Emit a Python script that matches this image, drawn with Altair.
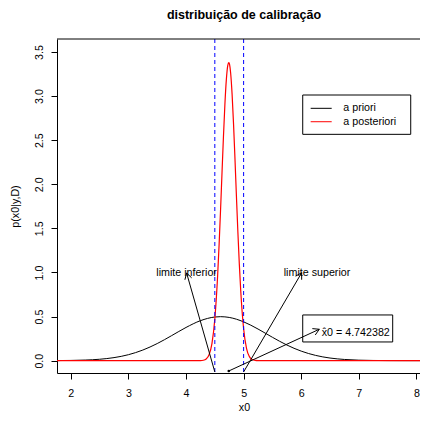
import math
import altair as alt
import pandas as pd

# ---------------- data ----------------
prior_x = [1.75, 2.0, 2.25, 2.5, 2.75, 3.0, 3.25, 3.5, 3.75, 4.0, 4.25, 4.5, 4.6,
           4.75, 5.0, 5.25, 5.5, 5.75, 6.0, 6.25, 6.5, 6.75, 7.0, 7.25, 7.5, 7.75,
           8.0, 8.25]
prior_y = [0.0009, 0.0025, 0.0067, 0.0159, 0.0344, 0.0675, 0.1201, 0.1938, 0.2836,
           0.3764, 0.4532, 0.4948, 0.4987, 0.4900, 0.4401, 0.3585, 0.2649, 0.1775,
           0.1079, 0.0595, 0.0297, 0.0135, 0.0055, 0.0021, 0.0007, 0.0002, 0.0001,
           0.0000]

post_x = [1.75, 4.2, 4.25, 4.3, 4.35, 4.4, 4.45, 4.5, 4.55, 4.575, 4.6, 4.625, 4.65,
          4.675, 4.7, 4.725, 4.742, 4.75, 4.775, 4.8, 4.825, 4.85, 4.875, 4.9, 4.925,
          4.95, 5.0, 5.05, 5.1, 5.15, 5.2, 5.25, 5.3, 8.25]
post_y = [0.0, 0.0002, 0.0010, 0.0048, 0.0194, 0.0665, 0.193, 0.473, 0.980, 1.325,
          1.717, 2.134, 2.544, 2.907, 3.186, 3.347, 3.380, 3.373, 3.259, 3.019, 2.682,
          2.285, 1.866, 1.461, 1.097, 0.790, 0.361, 0.140, 0.0456, 0.0126, 0.0029,
          0.0006, 0.0001, 0.0]

limits = [4.5, 5.0]
x0_hat = 4.742382
series_names = ["a priori", "a posteriori"]
series_colors = ["black", "red"]
limit_labels = ["limite inferior", "limite superior"]
x_ticks = [2, 3, 4, 5, 6, 7, 8]
y_ticks = [0.0, 0.5, 1.0, 1.5, 2.0, 2.5, 3.0, 3.5]

# ---------------- layout ----------------
W, H = 363, 334
X_DOM = [1.76, 1.76 + 363 / 57.6]
Y_DOM = [-0.14, 3.647]
SX = W / (X_DOM[1] - X_DOM[0])
SY = H / (Y_DOM[1] - Y_DOM[0])
FONT = "Liberation Sans"
FS = 10.7

xs = alt.Scale(domain=X_DOM, nice=False, zero=False)
ys = alt.Scale(domain=Y_DOM, nice=False, zero=False)
x_axis = alt.Axis(values=x_ticks, title="x0", grid=False, tickSize=6, labelPadding=17,
                  labelBaseline="alphabetic", labelFontSize=FS, titleFontSize=FS,
                  titleFontWeight="normal", titleX=187, titleY=37,
                  titleBaseline="alphabetic", titleAlign="center", format="d")
y_axis = alt.Axis(values=y_ticks, title="p(x0|y,D)", grid=False, tickSize=6,
                  labelPadding=9, labelAngle=-90, labelAlign="center",
                  labelBaseline="alphabetic", format=".1f", labelFontSize=FS,
                  titleFontSize=FS, titleFontWeight="normal", titleAngle=-90,
                  titleX=-39, titleY=H / 2, titleBaseline="alphabetic",
                  titleAlign="center")


def X(f):
    return alt.X(f, type="quantitative", scale=xs, axis=x_axis)


def Y(f):
    return alt.Y(f, type="quantitative", scale=ys, axis=y_axis)


prior_df = pd.DataFrame({"x": prior_x, "y": prior_y})
post_df = pd.DataFrame({"x": post_x, "y": post_y})

prior = alt.Chart(prior_df).mark_line(color="black", strokeWidth=1, clip=True,
                                      interpolate="monotone").encode(x=X("x"), y=Y("y"))
post = alt.Chart(post_df).mark_line(color="red", strokeWidth=1.2, clip=True,
                                    interpolate="monotone").encode(x=X("x"), y=Y("y"))

vlines = alt.Chart(pd.DataFrame({"x": limits})).mark_rule(
    color="#0000FF", strokeDash=[4, 3], strokeWidth=1).encode(x=X("x"))

# arrows: shaft start -> head end
arrows = [
    (limits[0], -0.128, 4.01, 0.994),
    (limits[1], -0.128, 6.008, 0.997),
    (x0_hat, -0.117, 6.314, 0.356),
]
segs = []
for (a, b, c, d) in arrows:
    segs.append((a, b, c, d))
    th = math.atan2((d - b) * SY, (c - a) * SX)
    for s in (1, -1):
        ang = th + math.pi + s * math.radians(30)
        segs.append((c, d, c + 7 * math.cos(ang) / SX, d + 7 * math.sin(ang) / SY))
seg_df = pd.DataFrame(segs, columns=["x", "y", "x2", "y2"])
arrow_layer = alt.Chart(seg_df).mark_rule(color="black", strokeWidth=1).encode(
    x=X("x"), y=Y("y"), x2="x2", y2="y2")

dot = alt.Chart(pd.DataFrame({"x": [x0_hat], "y": [-0.117]})).mark_circle(
    color="black", size=7, opacity=1).encode(x=X("x"), y=Y("y"))

lim_text = alt.Chart(pd.DataFrame({"x": [4.01, 6.274], "y": [0.994, 0.994],
                                   "t": limit_labels})).mark_text(
    font=FONT, fontSize=FS, align="center", baseline="middle", color="black").encode(
    x=X("x"), y=Y("y"), text="t:N")

# legend
leg_box = alt.Chart(pd.DataFrame({"x": [6.026], "y": [3.012], "x2": [7.901], "y2": [2.566]})
                    ).mark_rect(filled=False, stroke="black", strokeWidth=1).encode(
    x=X("x"), y=Y("y"), x2="x2", y2="y2")
leg_df = pd.DataFrame({"x": [6.164, 6.164], "x2": [6.529, 6.529], "y": [2.861, 2.709],
                       "tx": [6.731, 6.731], "name": series_names, "c": series_colors})
leg_lines = alt.Chart(leg_df).mark_rule(strokeWidth=1).encode(
    x=X("x"), x2="x2", y=Y("y"), color=alt.Color("c:N", scale=None))
leg_text = alt.Chart(leg_df).mark_text(font=FONT, fontSize=FS, align="left",
                                       baseline="middle", color="black").encode(
    x=X("tx"), y=Y("y"), text="name:N")

# x0 hat box
est_box = alt.Chart(pd.DataFrame({"x": [6.026], "y": [0.518], "x2": [7.588], "y2": [0.212]})
                    ).mark_rect(filled=False, stroke="black", strokeWidth=1).encode(
    x=X("x"), y=Y("y"), x2="x2", y2="y2")
est_text = alt.Chart(pd.DataFrame({"x": [6.356], "y": [0.314],
                                   "t": [f"x\u03020 = {x0_hat}"]})).mark_text(
    font=FONT, fontSize=FS, align="left", baseline="middle", color="black").encode(
    x=X("x"), y=Y("y"), text="t:N")

top_border = alt.Chart(pd.DataFrame({"d": [0]})).mark_rule(color="black", strokeWidth=1).encode(
    x=alt.value(0), x2=alt.value(W), y=alt.value(0))

chart = alt.layer(
    prior, post, vlines, arrow_layer, dot, lim_text, leg_box, leg_lines, leg_text,
    est_box, est_text, top_border
).properties(
    width=W, height=H,
    title=alt.TitleParams("distribuição de calibração", font=FONT, fontSize=12.5,
                          fontWeight="bold", anchor="middle", baseline="alphabetic",
                          offset=7.5, dx=5.5, color="black"),
    autosize=alt.AutoSizeParams(type="none"),
    padding={"left": 49, "top": 31, "right": 0, "bottom": 38},
).configure(font=FONT, background="white").configure_view(stroke=None).configure_axis(
    domainColor="black", tickColor="black", labelColor="black", titleColor="black",
    labelFont=FONT, titleFont=FONT, domainWidth=1, tickWidth=1
)

chart.save("out.html", embed_options={"renderer": "svg", "actions": False})
